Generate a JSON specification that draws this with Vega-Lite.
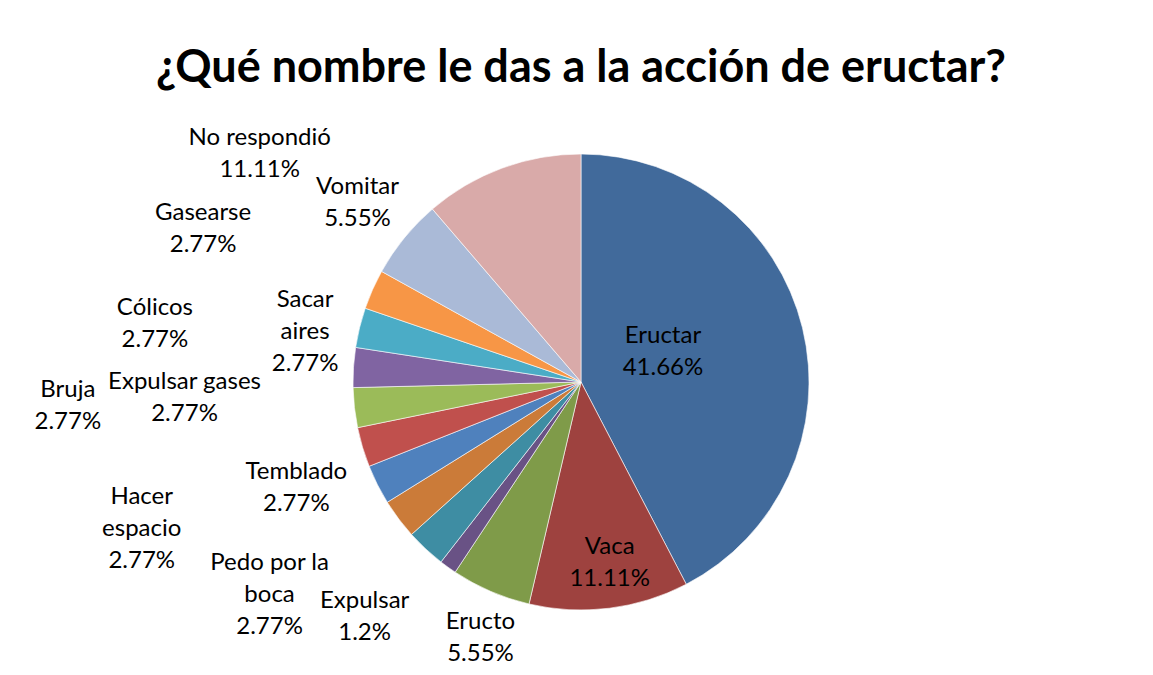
{
  "$schema": "https://vega.github.io/schema/vega-lite/v6.json",
  "width": 1144,
  "height": 586,
  "autosize": {"type": "none"},
  "padding": {"left": 9, "top": 89, "right": 0, "bottom": 0},
  "background": "white",
  "config": {
    "view": {"stroke": null},
    "text": {"font": "Lato", "fontSize": 24, "lineHeight": 32, "color": "#000000", "lineBreak": "\n"}
  },
  "title": {
    "text": "¿Qué nombre le das a la acción de eructar?",
    "font": "Lato",
    "fontSize": 45,
    "fontWeight": "bold",
    "color": "#000000",
    "anchor": "middle",
    "baseline": "alphabetic",
    "offset": 6,
    "dy": 44
  },
  "data": {
    "values": [
      {"idx": 1, "name": "Eructar", "pct": 41.66, "label": "Eructar\n41.66%"},
      {"idx": 2, "name": "Vaca", "pct": 11.11, "label": "Vaca\n11.11%"},
      {"idx": 3, "name": "Eructo", "pct": 5.55, "label": "Eructo\n5.55%"},
      {"idx": 4, "name": "Expulsar", "pct": 1.2, "label": "Expulsar\n1.2%"},
      {"idx": 5, "name": "Pedo por la boca", "pct": 2.77, "label": "Pedo por la\nboca\n2.77%"},
      {"idx": 6, "name": "Hacer espacio", "pct": 2.77, "label": "Hacer\nespacio\n2.77%"},
      {"idx": 7, "name": "Temblado", "pct": 2.77, "label": "Temblado\n2.77%"},
      {"idx": 8, "name": "Bruja", "pct": 2.77, "label": "Bruja\n2.77%"},
      {"idx": 9, "name": "Expulsar gases", "pct": 2.77, "label": "Expulsar gases\n2.77%"},
      {"idx": 10, "name": "Cólicos", "pct": 2.77, "label": "Cólicos\n2.77%"},
      {"idx": 11, "name": "Sacar aires", "pct": 2.77, "label": "Sacar\naires\n2.77%"},
      {"idx": 12, "name": "Gasearse", "pct": 2.77, "label": "Gasearse\n2.77%"},
      {"idx": 13, "name": "Vomitar", "pct": 5.55, "label": "Vomitar\n5.55%"},
      {"idx": 14, "name": "No respondió", "pct": 11.11, "label": "No respondió\n11.11%"}
    ]
  },
  "encoding": {
    "theta": {"field": "pct", "type": "quantitative", "stack": true},
    "order": {"field": "idx", "type": "quantitative"}
  },
  "layer": [
    {
      "mark": {"type": "arc", "outerRadius": 228, "stroke": "#ffffff", "strokeWidth": 0.6},
      "encoding": {
        "color": {
          "field": "name",
          "type": "nominal",
          "legend": null,
          "scale": {
            "domain": ["Eructar", "Vaca", "Eructo", "Expulsar", "Pedo por la boca", "Hacer espacio", "Temblado", "Bruja", "Expulsar gases", "Cólicos", "Sacar aires", "Gasearse", "Vomitar", "No respondió"],
            "range": ["#416A9B", "#9E423F", "#7F9B49", "#695285", "#3E8DA3", "#CB7B39", "#4F81BD", "#C0504D", "#9BBB59", "#8064A2", "#4BACC6", "#F79646", "#AABAD7", "#D9AAA9"]
          }
        }
      }
    },
    {"mark": {"type": "text", "clip": true, "radius": 72, "dx": 12, "dy": -29}, "encoding": {"text": {"condition": {"test": "datum.name === 'Eructar'", "field": "label", "type": "nominal"}, "value": ""}}},
    {"mark": {"type": "text", "clip": true, "radius": 182, "dx": 6, "dy": -16}, "encoding": {"text": {"condition": {"test": "datum.name === 'Vaca'", "field": "label", "type": "nominal"}, "value": ""}}},
    {"mark": {"type": "text", "clip": true, "radius": 274, "dx": 8, "dy": -12}, "encoding": {"text": {"condition": {"test": "datum.name === 'Eructo'", "field": "label", "type": "nominal"}, "value": ""}}},
    {"mark": {"type": "text", "clip": true, "radius": 316, "dx": -32, "dy": -38}, "encoding": {"text": {"condition": {"test": "datum.name === 'Expulsar'", "field": "label", "type": "nominal"}, "value": ""}}},
    {"mark": {"type": "text", "clip": true, "radius": 366, "dx": -62, "dy": -87}, "encoding": {"text": {"condition": {"test": "datum.name === 'Pedo por la boca'", "field": "label", "type": "nominal"}, "value": ""}}},
    {"mark": {"type": "text", "clip": true, "radius": 438, "dx": -89, "dy": -148}, "encoding": {"text": {"condition": {"test": "datum.name === 'Hacer espacio'", "field": "label", "type": "nominal"}, "value": ""}}},
    {"mark": {"type": "text", "clip": true, "radius": 302, "dx": -15, "dy": -46}, "encoding": {"text": {"condition": {"test": "datum.name === 'Temblado'", "field": "label", "type": "nominal"}, "value": ""}}},
    {"mark": {"type": "text", "clip": true, "radius": 498, "dx": -36, "dy": -134}, "encoding": {"text": {"condition": {"test": "datum.name === 'Bruja'", "field": "label", "type": "nominal"}, "value": ""}}},
    {"mark": {"type": "text", "clip": true, "radius": 396, "dx": -3, "dy": -45}, "encoding": {"text": {"condition": {"test": "datum.name === 'Expulsar gases'", "field": "label", "type": "nominal"}, "value": ""}}},
    {"mark": {"type": "text", "clip": true, "radius": 429, "dx": 2, "dy": -47}, "encoding": {"text": {"condition": {"test": "datum.name === 'Cólicos'", "field": "label", "type": "nominal"}, "value": ""}}},
    {"mark": {"type": "text", "clip": true, "radius": 280, "dx": -4, "dy": -15}, "encoding": {"text": {"condition": {"test": "datum.name === 'Sacar aires'", "field": "label", "type": "nominal"}, "value": ""}}},
    {"mark": {"type": "text", "clip": true, "radius": 408, "dx": -5, "dy": -3}, "encoding": {"text": {"condition": {"test": "datum.name === 'Gasearse'", "field": "label", "type": "nominal"}, "value": ""}}},
    {"mark": {"type": "text", "clip": true, "radius": 287, "dx": -1, "dy": -14}, "encoding": {"text": {"condition": {"test": "datum.name === 'Vomitar'", "field": "label", "type": "nominal"}, "value": ""}}},
    {"mark": {"type": "text", "clip": true, "radius": 326, "dx": -208, "dy": 62}, "encoding": {"text": {"condition": {"test": "datum.name === 'No respondió'", "field": "label", "type": "nominal"}, "value": ""}}}
  ]
}
